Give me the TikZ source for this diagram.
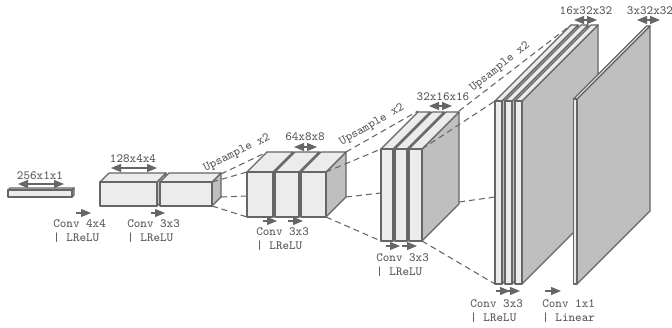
\documentclass[tikz,border=0pt]{standalone}
\usetikzlibrary{arrows.meta}

\definecolor{facefront}{HTML}{ECECEC}
\definecolor{faceside}{HTML}{BFBFBF}
\definecolor{edgegray}{HTML}{666666}
\definecolor{textgray}{HTML}{555555}

% x left, x right, y top, y bottom, depth
\newcommand{\slab}[5]{
	\filldraw[slabedge,fill=faceside] (#2,#3) -- ({#2+#5},{#3-#5}) -- ({#2+#5},{#4-#5}) -- (#2,#4) -- cycle;
	\filldraw[slabedge,fill=facefront] (#1,#3) -- ({#1+#5},{#3-#5}) -- ({#2+#5},{#3-#5}) -- (#2,#3) -- cycle;
	\filldraw[slabedge,fill=facefront] (#1,#3) rectangle (#2,#4);
}

\begin{document}
\begin{tikzpicture}[x=0.75pt,y=-0.75pt]
		\tikzstyle{slabedge}=[draw=edgegray,line width=1.05pt,line join=round]
		\tikzstyle{lbl}=[text=textgray,font=\ttfamily\fontsize{9.4}{11}\selectfont,inner sep=0pt]
		\tikzstyle{dimarrow}=[{Triangle[length=7.5pt,width=6pt]}-{Triangle[length=7.5pt,width=6pt]},draw=edgegray,fill=edgegray,line width=0.8pt]
		\tikzstyle{oparrow}=[-{Triangle[length=7.5pt,width=6pt]},draw=edgegray,fill=edgegray,line width=0.8pt]
		\tikzstyle{flow}=[draw=edgegray,line width=0.8pt,dash pattern=on 4.5pt off 3pt]
		\useasboundingbox (0,0) rectangle (672,328);

		\slab{8}{72}{190}{197}{2}
		\slab{100}{157}{182}{206}{9}
		\slab{160}{212}{182}{206}{9}
		\slab{247}{273}{172}{217}{20}
		\slab{275}{299}{172}{217}{20}
		\slab{301}{326}{172}{217}{20}
		\slab{381}{393}{149}{241}{37}
		\slab{395}{407}{149}{241}{37}
		\slab{409}{422}{149}{241}{37}
		\slab{495}{502}{101}{284}{76}
		\slab{505}{512}{101}{284}{76}
		\slab{515}{522}{101}{284}{76}
		\slab{573.5}{577}{99}{284}{73}

		\foreach \name/\x/\y in {a1/221/174,a2/212/182,a3/221/197,a4/212/206,
				b1/267/152,b2/247/172,b3/247/196,b4/247/217,
				c1/346/152,c2/326/172,c3/346/197,c4/326/217,
				d1/418/111,d2/381/149,d3/381/193,d4/381/241,
				e1/459/111,e2/422/149,e3/459/202,e4/422/241,
				f1/571/25,f2/495/101,f3/495/197,f4/495/284}
			\coordinate (\name) at (\x,\y);

		\draw[flow] (a1) -- (b1);
		\draw[flow] (a2) -- (b2);
		\draw[flow] (a3) -- (b3);
		\draw[flow] (a4) -- (b4);
		\draw[flow] (c1) -- (d1);
		\draw[flow] (c2) -- (d2);
		\draw[flow] (c3) -- (d3);
		\draw[flow] (c4) -- (d4);
		\draw[flow] (e1) -- (f1);
		\draw[flow] (e2) -- (f2);
		\draw[flow] (e3) -- (f3);
		\draw[flow] (e4) -- (f4);

		\foreach \name/\xa/\xb/\y in {s0/18/64/184,s1/111/157/168,s2/294/317/147,s3/429/452/106,s4/574/597/20,s5/637/660/20}{
			\coordinate (\name l) at (\xa,\y);
			\coordinate (\name r) at (\xb,\y);
			\draw[dimarrow] (\name l) -- (\name r);
		}
		\foreach \name/\xa/\xb/\y in {o0/76/91/213,o1/151/165/213,o2/263/277/221,o3/288/303/221,o4/386/400/246,o5/402/417/246,o6/496/510/291,o7/505/520/291,o8/545/561/291}{
			\coordinate (\name l) at (\xa,\y);
			\coordinate (\name r) at (\xb,\y);
			\draw[oparrow] (\name l) -- (\name r);
		}

		\node[lbl] (size0) at (40,176) {256x1x1};
		\node[lbl] (size1) at (133,159) {128x4x4};
		\node[lbl] (size2) at (305,137) {64x8x8};
		\node[lbl] (size3) at (443,97) {32x16x16};
		\node[lbl] (size4) at (586,11) {16x32x32};
		\node[lbl] (size5) at (650,11) {3x32x32};

		\node[lbl,rotate=26] (up0) at (237,153) {Upsample x2};
		\node[lbl,rotate=30] (up1) at (372,125) {Upsample x2};
		\node[lbl,rotate=38] (up2) at (500,67) {Upsample x2};

		\node[lbl,anchor=west] (conv0) at (53,224) {Conv 4x4};
		\node[lbl,anchor=west] (act0) at (53,238) {| LReLU};
		\node[lbl,anchor=west] (conv1) at (127,224) {Conv 3x3};
		\node[lbl,anchor=west] (act1) at (127,238) {| LReLU};
		\node[lbl,anchor=west] (conv2) at (256,232) {Conv 3x3};
		\node[lbl,anchor=west] (act2) at (256,246) {| LReLU};
		\node[lbl,anchor=west] (conv3) at (376,258) {Conv 3x3};
		\node[lbl,anchor=west] (act3) at (376,272) {| LReLU};
		\node[lbl,anchor=west] (conv4) at (470,304) {Conv 3x3};
		\node[lbl,anchor=west] (act4) at (470,318) {| LReLU};
		\node[lbl,anchor=west] (conv5) at (542,304) {Conv 1x1};
		\node[lbl,anchor=west] (act5) at (542,318) {| Linear};
\end{tikzpicture}
\end{document}
